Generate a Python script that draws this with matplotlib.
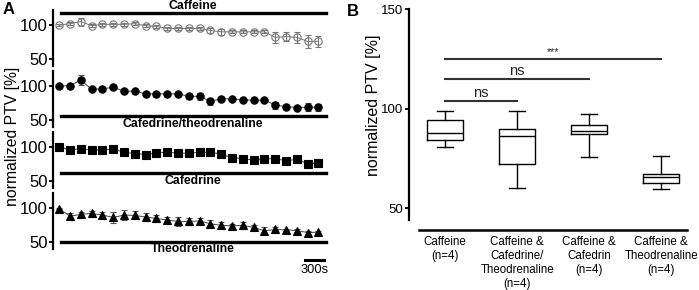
import numpy as np
import matplotlib
matplotlib.use('Agg')
import matplotlib.pyplot as plt

plt.rcParams['font.family'] = ['Liberation Sans', 'DejaVu Sans']

# Panel A: time course (normalized PTV [%]), 25 time points
caffeine = [100, 102, 105, 99, 101, 101, 101, 102, 99, 98, 95, 95, 95, 95, 92,
            90, 90, 90, 90, 90, 82, 83, 82, 76, 76]
caffeine_err = [1, 2, 6, 2, 2, 2, 2, 2, 2, 2, 2, 2, 2, 2, 4,
                4, 2, 2, 2, 2, 8, 7, 8, 9, 8]
cafe_theo = [100, 100.5, 109, 95, 96, 98, 92.5, 92.5, 88.5, 88.5, 88.5, 88.5, 85, 85, 77.5,
             81.5, 81, 80, 79, 79.5, 72, 70, 68.5, 69, 69]
cafe_theo_err = [1, 3, 7, 2, 3, 2, 2, 2, 3, 3, 2, 3, 4, 5, 5,
                 3, 2, 3, 2, 2, 5, 3, 2, 6, 5]
cafedrine = [100, 95.7, 97.6, 95.7, 95.7, 97, 92.4, 90.5, 89, 91.4, 92.4, 91, 91, 92.4, 92.4,
             89.5, 84.3, 82.9, 81, 82.9, 82.9, 80, 81.9, 75.7, 76.7]
cafedrine_err = [1, 2, 2, 2, 2, 2, 2, 3, 5, 3, 2, 2, 2, 2, 2,
                 2, 2, 2, 2, 3, 2, 2, 2, 3, 6]
theodrenaline = [99, 88, 90.7, 92, 89.7, 86.3, 89.7, 89.2, 86.8, 84.8, 82.4, 80.4, 80.4, 81, 77,
                 74.5, 74, 74.5, 71.6, 66.7, 68.6, 68, 67, 64, 64.7]
theodrenaline_err = [1, 5, 3, 3, 5, 8, 7, 6, 6, 5, 5, 6, 5, 5, 5,
                     5, 3, 5, 3, 5, 3, 2, 2, 2, 2]
time_idx = list(range(25))

# Panel B: box plot statistics
box_names = ['Caffeine\n(n=4)',
             'Caffeine &\nCafedrine/\nTheodrenaline\n(n=4)',
             'Caffeine &\nCafedrin\n(n=4)',
             'Caffeine &\nTheodrenaline\n(n=4)']
box_low = [80.5, 60, 75.6, 59.5]
box_q1 = [84, 72, 87.2, 62.5]
box_med = [87.7, 86, 88.7, 65.5]
box_q3 = [94, 89.7, 91.6, 67.3]
box_high = [99, 99, 97, 76.3]

W, H = 699, 290
fig = plt.figure(figsize=(W / 100, H / 100), dpi=100)


def px_axes(left, top, right, bottom):
    return fig.add_axes([left / W, 1 - bottom / H, (right - left) / W, (bottom - top) / H])


# ---- panel A ----
panels = [
    (10, caffeine, caffeine_err, 'o', 'none', '#777777', 'Caffeine', 118, 127.9),
    (71, cafe_theo, cafe_theo_err, 'o', 'black', 'black', 'Cafedrine/theodrenaline', 56.6, 44.4),
    (132, cafedrine, cafedrine_err, 's', 'black', 'black', 'Cafedrine', 62, 50.7),
    (193, theodrenaline, theodrenaline_err, '^', 'black', 'black', 'Theodrenaline', 50.7, 39.6),
]
axA = []
for top, vals, err, mk, fc, ec, name, bar_y, lab_y in panels:
    ax = px_axes(53, top, 330, top + 56)
    line_c = '#777777' if fc == 'none' else '#444444'
    err_c = '#777777' if fc == 'none' else '#555555'
    ax.errorbar(time_idx, vals, yerr=err, fmt='none', ecolor=err_c, elinewidth=0.8,
                capsize=2, capthick=0.8, zorder=3)
    ax.plot(time_idx, vals, color=line_c, lw=0.7, zorder=2)
    ax.plot(time_idx, vals, linestyle='none', marker=mk, ms=5.3, mfc=fc, mec=ec,
            mew=0.8, zorder=4 if fc != 'none' else 1)
    ax.plot([0.16, 24.7], [bar_y, bar_y], color='black', lw=2.4, clip_on=False)
    ax.text(12.4, lab_y, name, ha='center', va='center', fontsize=8.8,
            fontweight='bold', clip_on=False)
    ax.set_xlim(-0.58, 25.07)
    ax.set_ylim(40, 122)
    ax.set_yticks([50, 100])
    ax.tick_params(axis='y', labelsize=12, length=3, width=1.3, pad=1)
    ax.spines['left'].set_linewidth(1.6)
    for s in ['top', 'right', 'bottom']:
        ax.spines[s].set_visible(False)
    ax.set_xticks([])
    ax.patch.set_alpha(0)
    axA.append(ax)

# scale bar
axA[-1].plot([22.8, 24.5], [24, 24], color='black', lw=2.2, clip_on=False)
axA[-1].text(23.65, 9.3, '300s', ha='center', va='center', fontsize=9.3, clip_on=False)

fig.text(12.7 / W, 1 - 136 / H, 'normalized PTV [%]', rotation=90,
         ha='center', va='center', fontsize=11.3)
fig.text(9 / W, 1 - 10 / H, 'A', ha='center', va='center', fontsize=12, fontweight='bold')

# ---- panel B ----
axB = px_axes(409, 9, 690, 220)
stats = []
for i in range(4):
    stats.append({'whislo': box_low[i], 'q1': box_q1[i], 'med': box_med[i],
                  'q3': box_q3[i], 'whishi': box_high[i], 'fliers': []})
axB.bxp(stats, positions=[1, 2, 3, 4], widths=0.5, capwidths=0.23, showfliers=False,
        boxprops=dict(color='black', lw=1.0),
        medianprops=dict(color='black', lw=1.0),
        whiskerprops=dict(color='black', lw=1.0),
        capprops=dict(color='black', lw=1.0))
# spine position first: it resets the ticks
axB.spines['left'].set_linewidth(1.6)
axB.spines['bottom'].set_linewidth(1.8)
axB.spines['bottom'].set_position(('outward', 7.2))
axB.spines['bottom'].set_bounds(0.64, 4.36)
for s in ['top', 'right']:
    axB.spines[s].set_visible(False)
axB.set_xlim(0.5, 4.4)
axB.set_ylim(44, 150)
axB.set_yticks([50, 100, 150])
axB.set_xticks([1, 2, 3, 4])
axB.tick_params(axis='x', length=0, pad=4.5)
axB.tick_params(axis='y', labelsize=9.5, length=3, width=1.3, pad=1)
axB.set_xticklabels(box_names, fontsize=8.3, linespacing=1.22)

# significance bars
sig = [(1, 2, 103.7, 'ns', 10.5), (1, 3, 114.6, 'ns', 10.5), (1, 4, 125, '***', 7.5)]
for x0, x1, y, txt, fs in sig:
    axB.plot([x0, x1], [y, y], color='#333333', lw=1.5)
    axB.text((x0 + x1) / 2, y + 0.8, txt, ha='center', va='bottom', fontsize=fs, color='#222222')

fig.text(373 / W, 1 - 105 / H, 'normalized PTV [%]', rotation=90,
         ha='center', va='center', fontsize=11.5)
fig.text(353 / W, 1 - 11 / H, 'B', ha='center', va='center', fontsize=12, fontweight='bold')

fig.savefig('out.png', dpi=100)
